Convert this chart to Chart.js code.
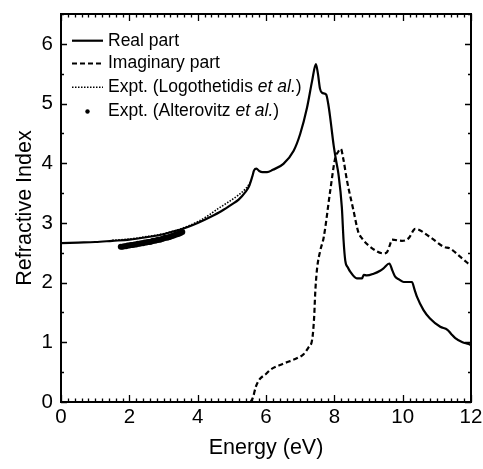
<!DOCTYPE html>
<html>
<head>
<meta charset="utf-8">
<script src="https://cdn.jsdelivr.net/npm/chart.js@4"></script>
<style>
html,body{margin:0;padding:0;background:#fff;}
#wrap{width:483px;height:469px;position:relative;}
</style>
</head>
<body>
<div id="wrap"><canvas id="c" width="483" height="469"></canvas></div>
<script>
// ---- data ----
const realE = [0,0.5,1.0,1.5,2.0,2.5,3.0,3.3,3.5,4.0,4.37,4.7,5.0,5.2,5.4,5.5,5.6,5.65,5.72,5.8,5.9,6.03,6.2,6.51,6.81,7.0,7.2,7.35,7.46,7.52,7.58,7.64,7.76,7.82,7.88,7.98,8.05,8.12,8.22,8.27,8.32,8.4,8.47,8.66,8.81,8.86,8.95,9.15,9.34,9.44,9.61,9.7,9.78,9.9,10.03,10.27,10.35,10.42,10.61,10.8,11.1,11.31,11.42,11.54,11.75,11.93,12.0];
const realN = [2.66,2.67,2.68,2.70,2.72,2.76,2.81,2.86,2.89,3.00,3.10,3.20,3.31,3.39,3.52,3.61,3.78,3.88,3.91,3.87,3.85,3.85,3.89,3.99,4.21,4.49,4.93,5.38,5.66,5.50,5.25,5.18,5.15,5.00,4.76,4.30,4.05,3.82,3.26,2.71,2.37,2.25,2.18,2.07,2.07,2.13,2.12,2.15,2.20,2.24,2.32,2.20,2.10,2.05,2.01,2.01,1.88,1.76,1.54,1.40,1.26,1.21,1.14,1.07,1.00,0.97,0.95];

const imagE = [5.55,5.62,5.7,5.8,6.0,6.13,6.5,7.0,7.1,7.25,7.35,7.41,7.44,7.49,7.59,7.69,7.88,8.03,8.1,8.19,8.27,8.37,8.56,8.7,8.81,9.05,9.44,9.54,9.62,9.69,9.98,10.17,10.37,10.81,11.2,11.39,11.69,11.98];
const imagK = [0.00,0.08,0.25,0.37,0.47,0.54,0.64,0.76,0.80,0.92,1.04,1.43,1.82,2.21,2.54,2.76,3.54,4.10,4.18,4.24,4.05,3.71,3.21,2.85,2.74,2.60,2.49,2.51,2.62,2.72,2.70,2.74,2.90,2.76,2.60,2.57,2.43,2.29];

const logoE = [1.5,2.0,2.5,3.0,3.5,4.0,4.3,4.6,4.9,5.2,5.4,5.55];
const logoN = [2.71,2.73,2.77,2.82,2.90,3.02,3.12,3.24,3.35,3.47,3.57,3.68];

const alterE = [1.75,1.8,1.85,1.9,1.95,2.0,2.05,2.1,2.15,2.2,2.25,2.3,2.35,2.4,2.45,2.5,2.55,2.6,2.65,2.7,2.75,2.8,2.85,2.9,2.95,3.0,3.05,3.1,3.15,3.2,3.25,3.3,3.35,3.4,3.45,3.5,3.55];
const alterN = [2.60,2.60,2.61,2.61,2.62,2.62,2.63,2.63,2.64,2.64,2.65,2.65,2.66,2.66,2.67,2.67,2.68,2.68,2.69,2.70,2.70,2.71,2.72,2.72,2.73,2.74,2.75,2.75,2.76,2.77,2.78,2.79,2.80,2.81,2.82,2.83,2.85];

const xTicks = [0,2,4,6,8,10,12];
const yTicks = [0,1,2,3,4,5,6];
const legendLabels = [
  [{t:'Real part'}],
  [{t:'Imaginary part'}],
  [{t:'Expt. (Logothetidis '},{t:'et al.',i:true},{t:')'}],
  [{t:'Expt. (Alterovitz '},{t:'et al.',i:true},{t:')'}]
];

const pts = (xs, ys) => xs.map((x, i) => ({x, y: ys[i]}));
const FONT = "'Liberation Sans', Arial, sans-serif";

const frameTicks = {
  id: 'frameTicks',
  afterDraw(chart) {
    const {ctx, chartArea: a, scales: {x, y}} = chart;
    ctx.save();
    ctx.strokeStyle = '#000';
    ctx.lineWidth = 1.3;
    ctx.beginPath();
    for (let i = 0; i <= 60; i++) {
      const v = i * 0.2;
      const px = Math.round(x.getPixelForValue(v)) + 0.5;
      const len = (i % 10 === 0) ? 7 : 3.5;
      ctx.moveTo(px, a.bottom); ctx.lineTo(px, a.bottom - len);
      ctx.moveTo(px, a.top); ctx.lineTo(px, a.top + len);
    }
    for (let i = 0; i <= 13; i++) {
      const v = i * 0.5;
      const py = Math.round(y.getPixelForValue(v)) + 0.5;
      const len = (i % 2 === 0) ? 6 : 3;
      ctx.moveTo(a.left, py); ctx.lineTo(a.left + len, py);
      ctx.moveTo(a.right, py); ctx.lineTo(a.right - len, py);
    }
    ctx.stroke();
    ctx.lineWidth = 2;
    ctx.strokeRect(a.left, a.top, a.right - a.left, a.bottom - a.top);
    // legend
    const rows = [40.7, 63.5, 87.3, 111.5];
    ctx.textBaseline = 'middle';
    chart.data.datasets.forEach((ds, i) => {
      const yy = rows[i];
      ctx.save();
      if (i < 3) {
        ctx.strokeStyle = '#000';
        ctx.lineWidth = ds.borderWidth;
        ctx.setLineDash(ds.borderDash || []);
        ctx.beginPath();
        ctx.moveTo(72, yy); ctx.lineTo(103, yy);
        ctx.stroke();
      } else {
        ctx.fillStyle = '#000';
        ctx.beginPath();
        ctx.arc(87.5, yy, 2.2, 0, Math.PI * 2);
        ctx.fill();
      }
      ctx.restore();
      let tx = 108;
      ctx.fillStyle = '#000';
      legendLabels[i].forEach(seg => {
        ctx.font = (seg.i ? 'italic ' : '') + '17.5px ' + FONT;
        ctx.fillText(seg.t, tx, yy);
        tx += ctx.measureText(seg.t).width;
      });
    });
    ctx.restore();
  }
};

new Chart(document.getElementById('c'), {
  type: 'line',
  data: {
    datasets: [
      {label: 'Real part', data: pts(realE, realN), borderColor: '#000', borderWidth: 2.2, pointRadius: 0, cubicInterpolationMode: 'monotone', fill: false, order: 1},
      {label: 'Imaginary part', data: pts(imagE, imagK), borderColor: '#000', borderWidth: 2.2, borderDash: [5, 3], pointRadius: 0, cubicInterpolationMode: 'monotone', fill: false, order: 2},
      {label: 'Expt. (Logothetidis et al.)', data: pts(logoE, logoN), borderColor: '#000', borderWidth: 1.6, borderDash: [1.5, 1.5], pointRadius: 0, cubicInterpolationMode: 'monotone', fill: false, order: 3},
      {label: 'Expt. (Alterovitz et al.)', data: pts(alterE, alterN), showLine: false, pointRadius: 3, pointBackgroundColor: '#000', pointBorderColor: '#000', borderWidth: 0, order: 4}
    ]
  },
  options: {
    responsive: false,
    animation: false,
    devicePixelRatio: 1,
    layout: {padding: {left: 0, top: 14, right: 12, bottom: 0}},
    plugins: {legend: {display: false}, tooltip: {enabled: false}},
    scales: {
      x: {
        type: 'linear', min: 0, max: 12,
        afterFit: s => { s.height = 67; s.paddingLeft = 0; s.paddingRight = 0; },
        afterBuildTicks: s => { s.ticks = xTicks.map(v => ({value: v})); },
        grid: {display: false, drawTicks: false},
        border: {display: false},
        ticks: {color: '#000', padding: 3, font: {family: FONT, size: 20.5}, maxRotation: 0},
        title: {display: true, text: 'Energy (eV)', color: '#000', font: {family: FONT, size: 21.5}, padding: {top: 0, bottom: 8}}
      },
      y: {
        type: 'linear', min: 0, max: 6.5,
        afterFit: s => { s.width = 61; s.paddingTop = 0; s.paddingBottom = 0; },
        afterBuildTicks: s => { s.ticks = yTicks.map(v => ({value: v})); },
        grid: {display: false, drawTicks: false},
        border: {display: false},
        ticks: {color: '#000', padding: 8, font: {family: FONT, size: 20.5}},
        title: {display: true, text: 'Refractive Index', color: '#000', font: {family: FONT, size: 21.5}, padding: {top: 12, bottom: 0}}
      }
    }
  },
  plugins: [frameTicks]
});
</script>
</body>
</html>
